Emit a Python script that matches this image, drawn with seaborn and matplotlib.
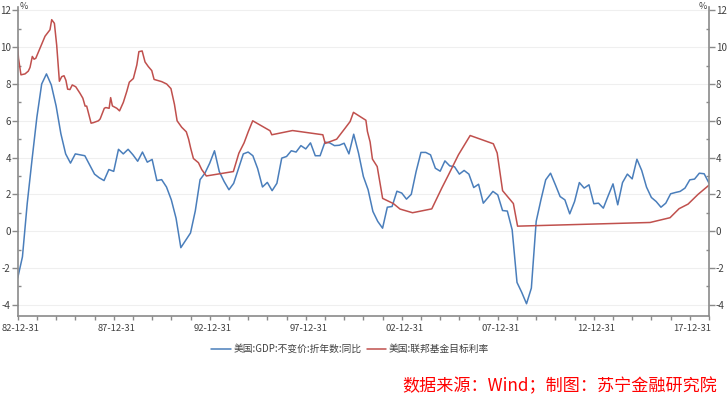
import pandas as pd
import seaborn as sns
import matplotlib.pyplot as plt
import matplotlib.dates as mdates
import matplotlib.transforms as mtransforms
from matplotlib.ticker import MultipleLocator

GDP_LABEL = '美国:GDP:不变价:折年数:同比'
RATE_LABEL = '美国:联邦基金目标利率'
SOURCE_TEXT = '数据来源：Wind；制图：苏宁金融研究院'

# quarterly, first quarter ends 1982-12-31
GDP_START = '1982-12-31'
GDP_VALUES = [
    -2.55, -1.4, 1.5, 3.9, 6.2, 8.0, 8.55, 7.95, 6.8, 5.3,
    4.2, 3.7, 4.2, 4.15, 4.1, 3.6, 3.1, 2.9, 2.75, 3.35,
    3.25, 4.45, 4.2, 4.45, 4.15, 3.8, 4.3, 3.75, 3.9, 2.75,
    2.8, 2.4, 1.7, 0.7, -0.9, -0.5, -0.1, 1.1,
    2.8, 3.15, 3.7, 4.37, 3.24, 2.7, 2.25, 2.6, 3.4, 4.2,
    4.3, 4.1, 3.4, 2.4, 2.65, 2.2, 2.6, 3.97, 4.06, 4.37,
    4.3, 4.65, 4.47, 4.8, 4.1, 4.1, 4.84, 4.8, 4.65, 4.67,
    4.78, 4.2, 5.27, 4.24, 2.97,
    2.25, 1.07, 0.53, 0.16, 1.3, 1.34, 2.17, 2.07, 1.74, 2.0,
    3.24, 4.28, 4.28, 4.15, 3.42, 3.26, 3.82, 3.55, 3.5, 3.1,
    3.3, 3.1, 2.37, 2.55, 1.52, 1.83, 2.16, 1.97, 1.12, 1.09,
    0.07, -2.79, -3.33, -3.95, -3.1, 0.53, 1.7,
    2.79, 3.15, 2.52, 1.88, 1.7, 0.94, 1.61, 2.64, 2.34, 2.52,
    1.49, 1.52, 1.25, 1.92, 2.57, 1.43, 2.64, 3.1, 2.84, 3.91,
    3.3, 2.39, 1.83, 1.61, 1.3, 1.52, 2.03, 2.1, 2.16, 2.34,
    2.79, 2.83, 3.15, 3.12, 2.61,
]

# target rate, points at change dates
RATE_DATES = [
    '1982-12-31', '1983-01-15', '1983-03-03', '1983-05-19', '1983-07-20',
    '1983-08-22', '1983-10-05', '1983-11-07', '1983-12-10', '1984-06-03',
    '1984-09-05', '1984-10-08', '1984-11-28', '1985-01-11', '1985-03-03',
    '1985-04-16', '1985-05-30', '1985-07-05', '1985-08-07', '1985-09-20',
    '1985-11-03', '1986-01-08', '1986-03-29', '1986-05-23', '1986-07-05',
    '1986-08-04', '1986-10-27', '1986-12-10', '1987-03-15', '1987-04-17',
    '1987-07-05', '1987-08-04', '1987-10-05', '1987-11-03', '1987-12-06',
    '1988-02-28', '1988-04-20', '1988-07-01', '1988-09-05', '1988-10-23',
    '1989-01-08', '1989-03-15', '1989-04-23', '1989-06-24', '1989-08-18',
    '1989-10-19', '1989-12-24', '1990-02-06', '1990-07-01', '1990-10-04',
    '1990-12-24', '1991-02-28', '1991-04-20', '1991-07-16', '1991-10-12',
    '1991-11-25', '1992-01-04', '1992-02-24', '1992-05-30', '1992-07-31',
    '1992-10-27', '1994-03-25', '1994-07-08', '1994-10-15', '1995-01-04',
    '1995-03-28', '1996-02-20', '1996-03-25', '1997-04-23', '1998-11-21',
    '1999-01-04', '1999-08-11', '2000-01-19', '2000-04-23', '2000-06-25',
    '2001-02-17', '2001-03-18', '2001-05-08', '2001-06-21', '2001-09-20',
    '2002-01-01', '2002-04-20', '2002-07-24', '2002-11-28', '2003-07-24',
    '2004-07-24', '2005-01-30', '2005-06-07', '2005-12-13', '2006-07-24',
    '2007-10-08', '2007-12-20', '2008-04-01', '2008-10-23', '2009-01-11',
    '2015-12-06', '2016-12-20', '2017-06-10', '2017-11-28', '2018-06-06',
    '2018-12-31',
]
RATE_VALUES = [
    10.0, 9.4, 8.5, 8.55, 8.7,
    8.9, 9.5, 9.35, 9.4, 10.6,
    10.95, 11.5, 11.3, 10.1, 8.15,
    8.4, 8.45, 8.2, 7.72, 7.7,
    7.95, 7.85, 7.5, 7.23, 6.8,
    6.8, 5.87, 5.9, 6.0, 6.1,
    6.68, 6.72, 6.68, 7.26, 6.81,
    6.68, 6.54, 7.0, 7.6, 8.1,
    8.3, 9.04, 9.76, 9.8, 9.2,
    8.95, 8.73, 8.25, 8.13, 8.0,
    7.75, 6.9, 6.0, 5.65, 5.4,
    5.0, 4.5, 3.95, 3.72, 3.35,
    3.0, 3.24, 4.24, 4.8, 5.42,
    6.0, 5.46, 5.24, 5.47, 5.24,
    4.77, 5.0, 5.6, 5.96, 6.46,
    6.03, 5.42, 4.85, 3.92, 3.51,
    1.78, 1.63, 1.5, 1.2, 1.0,
    1.21, 2.34, 3.06, 4.15, 5.2,
    4.75, 4.25, 2.2, 1.5, 0.27,
    0.47, 0.73, 1.22, 1.47, 2.0,
    2.5,
]

XTICK_DATES = ['1982-12-31', '1987-12-31', '1992-12-31', '1997-12-31',
               '2002-12-31', '2007-12-31', '2012-12-31', '2017-12-31']
XTICK_LABELS = ['82-12-31', '87-12-31', '92-12-31', '97-12-31',
                '02-12-31', '07-12-31', '12-12-31', '17-12-31']
YTICKS = [-4, -2, 0, 2, 4, 6, 8, 10, 12]

BLUE = '#4a7ebb'
RED = '#c0504d'
SPINE = '#8a8a8a'
TEXT = '#404040'


def get_data():
    gdp = pd.DataFrame({
        'date': pd.date_range(GDP_START, periods=len(GDP_VALUES), freq='QE'),
        'value': GDP_VALUES,
        'series': GDP_LABEL,
    })
    rate = pd.DataFrame({
        'date': pd.to_datetime(RATE_DATES),
        'value': RATE_VALUES,
        'series': RATE_LABEL,
    })
    return pd.concat([gdp, rate], ignore_index=True)


def apply_formatting(fig, ax):
    ax.set_xlim(pd.Timestamp('1982-12-31'), pd.Timestamp('2018-12-31'))
    ax.set_ylim(-4.6, 12.2)
    ax.set_xlabel('')
    ax.set_ylabel('')

    ax.set_xticks(pd.to_datetime(XTICK_DATES))
    ax.set_xticklabels(XTICK_LABELS)
    ax.xaxis.set_minor_locator(mdates.YearLocator(1, month=12, day=31))
    ax.set_yticks(YTICKS)
    ax.set_yticklabels([str(v) for v in YTICKS])
    ax.yaxis.set_minor_locator(MultipleLocator(1))

    ax.grid(False)
    ax.grid(axis='y', which='major', color='#efefef', linewidth=0.8)

    for side in ['left', 'right', 'bottom']:
        ax.spines[side].set_visible(True)
        ax.spines[side].set_color(SPINE)
        ax.spines[side].set_linewidth(1.2)
    ax.spines['top'].set_visible(False)

    ax.tick_params(axis='y', which='major', direction='out', length=4, width=1,
                   color=SPINE, left=True, right=True, labelleft=True,
                   labelright=True, labelsize=7, labelcolor=TEXT, pad=1)
    ax.tick_params(axis='y', which='minor', direction='in', length=2.5, width=1,
                   color=SPINE, left=True, right=True)
    ax.tick_params(axis='x', which='both', direction='out', length=3, width=1,
                   color=SPINE, bottom=True, labelsize=6.8, labelcolor=TEXT, pad=3)

    # x labels sit a little right of their ticks, as in the original
    shift = mtransforms.ScaledTranslation(2.5 / 100, 0, fig.dpi_scale_trans)
    for label in ax.get_xticklabels():
        label.set_transform(label.get_transform() + shift)

    ax.text(0.003, 1.0, '%', transform=ax.transAxes, ha='left', va='center',
            fontsize=6.5, color=TEXT)
    ax.text(0.997, 1.0, '%', transform=ax.transAxes, ha='right', va='center',
            fontsize=6.5, color=TEXT)
    return ax


def main():
    df = get_data()

    sns.set_theme(style='white')
    plt.rcParams['font.family'] = ['Noto Sans CJK SC', 'DejaVu Sans']
    plt.rcParams['axes.unicode_minus'] = False

    fig = plt.figure(figsize=(7.27, 3.98), dpi=100)
    ax = fig.add_axes([17.7 / 727, 1 - 315.7 / 398, (709 - 17.7) / 727, (315.7 - 6.8) / 398])

    sns.lineplot(data=df, x='date', y='value', hue='series',
                 hue_order=[GDP_LABEL, RATE_LABEL], palette=[BLUE, RED],
                 estimator=None, linewidth=1.1, ax=ax)
    apply_formatting(fig, ax)

    sns.move_legend(ax, 'center', bbox_to_anchor=(0.481, -0.108), ncol=2,
                    frameon=False, title=None, fontsize=7, handlelength=2,
                    handletextpad=0.3, columnspacing=0.5)
    for t in ax.get_legend().get_texts():
        t.set_color(TEXT)

    fig.text(717 / 727, 1 - 386 / 398, SOURCE_TEXT, ha='right', va='center',
             color='#ff0000', fontsize=12.3, fontstyle='italic')

    fig.savefig('out.png', dpi=100)


if __name__ == '__main__':
    main()
